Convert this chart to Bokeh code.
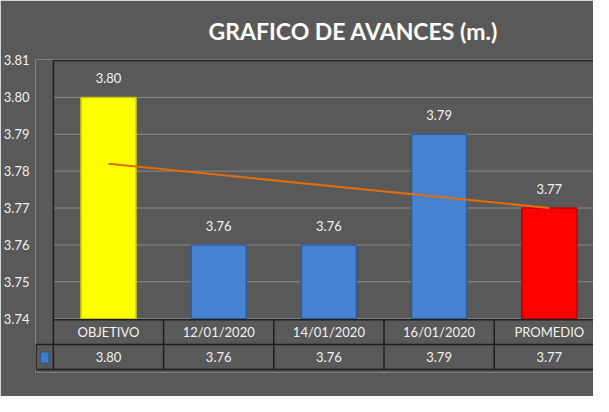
import numpy as np
from bokeh.plotting import figure
from bokeh.models import Range1d, FixedTicker, PrintfTickFormatter, ColumnDataSource
from bokeh.core.properties import value
from bokeh.embed import file_html
from bokeh.resources import INLINE

# ---- data ----
categories = ["OBJETIVO", "12/01/2020", "14/01/2020", "16/01/2020", "PROMEDIO"]
avance = [3.80, 3.76, 3.76, 3.79, 3.77]
bar_colors = ["#ffff00", "#4682d0", "#4682d0", "#4682d0", "#ff0000"]
edge_colors = ["#c8c800", "#2c5c9c", "#2c5c9c", "#2c5c9c", "#c00000"]
y_ticks = [3.74, 3.75, 3.76, 3.77, 3.78, 3.79, 3.80, 3.81]
title_text = "GRAFICO DE AVANCES (m.)"

# ---- layout (page pixels) ----
W, H, M = 593, 396, 8
FL, FR, FT, FB = 39, 601, 66, 380     # frame edges
KEY_L = 39.6                           # left border of legend-key cell
PL, COL = 57, 111                      # plot-area left, column width
Y_TOP, Y_BOT = 67, 326                 # pixel rows of top / bottom ticks
HDR_TOP, ROW_MID, ROW_BOT = 327, 352, 377
HDR_Y, VAL_Y = 339, 364

ppu = (Y_BOT - Y_TOP) / (y_ticks[-1] - y_ticks[0])
y_range = Range1d(y_ticks[0] - (FB - Y_BOT) / ppu, y_ticks[-1] + (Y_TOP - FT) / ppu)
x_range = Range1d((FL - PL) / COL, (FR - PL) / COL)

BG = "#595959"
TXT = "#f2f2f2"
DARK = "#1e1e1e"
FONT = value("Lato")

p = figure(width=W, height=H, x_range=x_range, y_range=y_range,
           output_backend="svg", toolbar_location=None,
           x_axis_location=None, y_axis_location="left",
           min_border_left=FL - M, min_border_right=0,
           min_border_top=FT - M, min_border_bottom=H + M - FB)
p.extra_y_ranges = {"tbl": Range1d(start=FB, end=FT)}
p.background_fill_color = BG
p.border_fill_color = BG
p.outline_line_color = None
p.grid.visible = False

p.title.text = title_text
p.title.text_font = "Lato"
p.title.text_font_style = "bold"
p.title.text_font_size = "23px"
p.title.text_color = "#ffffff"
p.title.align = "left"
p.title.offset = 212 - FL
p.title.standoff = 29

ax = p.yaxis[0]
ax.ticker = FixedTicker(ticks=y_ticks)
ax.formatter = PrintfTickFormatter(format="%.2f")
ax.major_label_standoff = 0
ax.major_tick_line_color = None
ax.minor_tick_line_color = None
ax.axis_line_color = None
ax.major_label_text_color = TXT
ax.major_label_text_font = "Lato"
ax.major_label_text_font_size = "13px"

n = len(categories)
xs = np.arange(n) + 0.5
x_end = (FR - PL) / COL

# gridlines
p.segment(x0=[0] * len(y_ticks), x1=[x_end] * len(y_ticks), y0=y_ticks, y1=y_ticks,
          line_color="#8a8a8a", line_width=1)

# bars
src = ColumnDataSource(dict(x=xs, top=avance, fill=bar_colors, edge=edge_colors,
                            lbl=[f"{v:.2f}" for v in avance], cat=categories))
p.vbar(x="x", top="top", bottom=y_ticks[0], width=0.5, source=src,
       fill_color="fill", line_color="edge", line_width=1.5)

# linear trend line
coef = np.polyfit(xs, avance, 1)
tx = [xs[0], xs[-1]]
p.line(tx, np.polyval(coef, tx), line_color="#e46c0a", line_width=2)

# data labels
p.text(x="x", y="top", text="lbl", source=src, y_offset=-19,
       text_align="center", text_baseline="middle", text_color=TXT,
       text_font=FONT, text_font_size="13px")

# data table below the plot
p.text(x="x", y=HDR_Y, text="cat", source=src, y_range_name="tbl",
       text_align="center", text_baseline="middle", text_color=TXT,
       text_font=FONT, text_font_size="13px")
p.text(x="x", y=VAL_Y, text="lbl", source=src, y_range_name="tbl",
       text_align="center", text_baseline="middle", text_color=TXT,
       text_font=FONT, text_font_size="13px")

key_l = (KEY_L - PL) / COL
key_x = key_l / 2
p.rect(x=[key_x], y=[VAL_Y + 1], width=8, height=11, width_units="screen",
       height_units="screen", fill_color="#3f7dcc", line_color="#2a5a96",
       y_range_name="tbl")

x0s = [0, 0, key_l, key_l]
x1s = [x_end] * 4
yhs = [Y_TOP, HDR_TOP, ROW_MID, ROW_BOT]
p.segment(x0=x0s, x1=x1s, y0=yhs, y1=yhs, line_color=DARK, line_width=1.5,
          y_range_name="tbl")
vx = [key_l, 0] + list(range(1, n))
vy0 = [ROW_MID, Y_TOP] + [HDR_TOP] * (n - 1)
vy1 = [ROW_BOT] * len(vx)
p.segment(x0=vx, x1=vx, y0=vy0, y1=vy1, line_color=DARK, line_width=1.5,
          y_range_name="tbl")

open("out.html", "w").write(file_html(p, INLINE))
